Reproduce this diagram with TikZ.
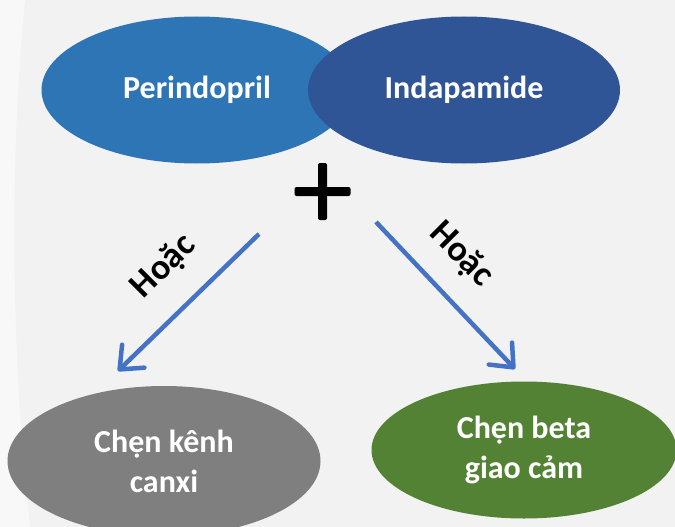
\documentclass[tikz,border=0pt]{standalone}
\usepackage{fontspec}
\setmainfont{Carlito}
\usetikzlibrary{shapes.geometric,arrows.meta}
\definecolor{bgcol}{HTML}{F2F2F2}
\definecolor{perin}{HTML}{2E75B6}
\definecolor{indap}{HTML}{2F5597}
\definecolor{greyell}{HTML}{7F7F7F}
\definecolor{greenell}{HTML}{548235}
\definecolor{arrowcol}{HTML}{4472C4}
\tikzset{
  oval/.style={ellipse, draw=none, inner sep=0pt, text=white,
    font=\fontsize{32}{40}\selectfont\bfseries, align=center},
  ormark/.style={font=\fontsize{36}{40}\selectfont\bfseries, text=black, inner sep=0pt},
  linkarrow/.style={draw=arrowcol, line width=4.5pt,
    -{Straight Barb[length=19pt,width=32pt,line cap=round,line join=round]}},
  plusbar/.style={fill=black, rounded corners=2pt}
}
\begin{document}
\begin{tikzpicture}[x=1pt,y=-1pt]
\useasboundingbox (0,0) rectangle (675,527);
\clip (0,0) rectangle (675,527);
\fill[bgcol] (0,0) rectangle (675,527);
\fill[white, opacity=0.5] (0,0) -- (25,0) .. controls (10,150) and (10,350) .. (30,527) -- (0,527) -- cycle;
% top ellipses
\node[oval, fill=perin, minimum width=311pt, minimum height=147pt] (perin) at (197,90) {Perindopril};
\node[oval, fill=indap, minimum width=312pt, minimum height=147pt] (indap) at (464,90) {Indapamide};
% plus sign
\node[plusbar, minimum width=9pt, minimum height=57pt, inner sep=0pt] (plusv) at (322.5,191.5) {};
\node[plusbar, minimum width=56pt, minimum height=9pt, inner sep=0pt] (plush) at (322.5,191.5) {};
% bottom ellipses
\node[oval, fill=greyell, minimum width=313pt, minimum height=150pt] (ccb) at (164,461) {Chẹn kênh\\canxi};
\node[oval, fill=greenell, minimum width=305pt, minimum height=137pt] (bb) at (524,450) {Chẹn beta\\giao cảm};
% arrows
\coordinate (lstart) at (259,234);
\coordinate (lend) at (118,371);
\coordinate (rstart) at (376,222);
\coordinate (rend) at (515,369);
\draw[linkarrow] (lstart) -- (lend);
\draw[linkarrow] (rstart) -- (rend);
\node[ormark, rotate=45] (orl) at (164,267) {Hoặc};
\node[ormark, rotate=-45] (orr) at (461,255) {Hoặc};
\end{tikzpicture}
\end{document}
